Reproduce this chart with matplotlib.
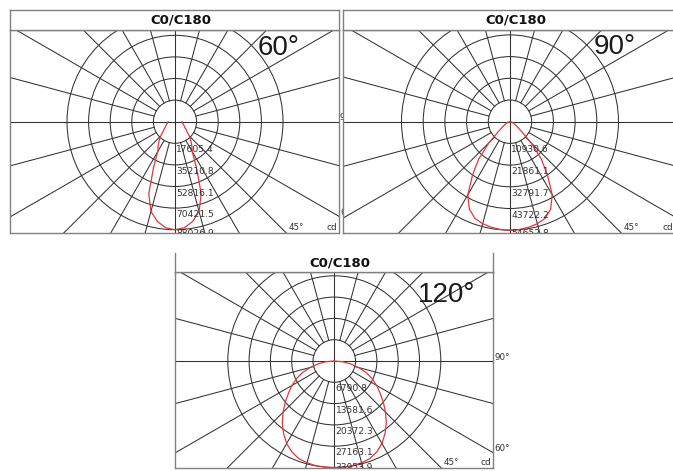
import numpy as np
import matplotlib.pyplot as plt
from matplotlib.patches import Circle

FIG_W, FIG_H = 673, 471

title = "C0/C180"
beam_labels = ["60°", "90°", "120°"]

# polar angle from nadir (deg) and luminous intensity (cd), C0/C180 symmetric
angles = [0, 5, 10, 15, 20, 25, 30, 35, 40, 45, 50, 55, 60, 65, 70, 75, 80, 85, 90]

rings_60 = [17605.4, 35210.8, 52816.1, 70421.5, 88026.9]
intensity_60 = [88027, 86800, 82600, 75800, 62500, 41500, 28000, 24000, 20000, 16500,
                12800, 11000, 9250, 8300, 7400, 6800, 6350, 6000, 5700]

rings_90 = [10930.6, 21861.1, 32791.7, 43722.2, 54652.8]
intensity_90 = [54653, 54500, 54000, 53200, 51800, 48500, 42500, 33000, 24500, 15000,
                7500, 4500, 3000, 2200, 1500, 1000, 600, 300, 0]

rings_120 = [6790.8, 13581.6, 20372.3, 27163.1, 33953.9]
intensity_120 = [33954, 33950, 33900, 33600, 33100, 32000, 30400, 28200, 25800, 23100,
                 20400, 17800, 15600, 13300, 10800, 8000, 5200, 2700, 0]

GRID = "#333333"
FRAME = "#808080"
RED = "#e0383c"


def px_axes(fig, x0, y0, x1, y1):
    return fig.add_axes([x0 / FIG_W, 1 - y1 / FIG_H, (x1 - x0) / FIG_W, (y1 - y0) / FIG_H])


def clean(ax, top=True):
    ax.set_xticks([])
    ax.set_yticks([])
    for side, sp in ax.spines.items():
        sp.set_color(FRAME)
        sp.set_linewidth(1.0)
    if not top:
        ax.spines["top"].set_visible(False)


def draw_panel(fig, box, center, px_ring, rings, intensity, beam, beam_pos,
               top_line=True, side_labels=True):
    x0, ytop, x1, ysep, ybot = box
    cx, cy = center
    step = rings[0]
    s = px_ring / step

    def to_data(px, py):
        return (px - cx) / s, (cy - py) / s

    ax = px_axes(fig, x0, ysep, x1, ybot)
    ax.set_facecolor("white")
    ax.set_xlim(*[(v - cx) / s for v in (x0, x1)])
    ax.set_ylim(-(ybot - cy) / s, (cy - ysep) / s)
    clean(ax)

    for v in rings:
        ax.add_patch(Circle((0, 0), v, fill=False, ec=GRID, lw=0.75))
    far = step * 12
    for a in range(0, 360, 15):
        t = np.radians(a)
        if a % 90 == 0:
            r0 = 0
        else:
            r0 = step
        ax.plot([r0 * np.cos(t), far * np.cos(t)], [r0 * np.sin(t), far * np.sin(t)],
                color=GRID, lw=0.75)
    ax.axhline(0, color=GRID, lw=0.75)
    ax.axvline(0, color=GRID, lw=0.75)

    th = np.radians(angles)
    inten = np.array(intensity, dtype=float)
    xs = np.concatenate([-(inten * np.sin(th))[::-1], (inten * np.sin(th))[1:]])
    ys = np.concatenate([-(inten * np.cos(th))[::-1], -(inten * np.cos(th))[1:]])
    ax.plot(xs, ys, color=RED, lw=0.9)

    for v in rings:
        if v * s + 10 > ybot - cy:
            # last label sits on the bottom border, half cut
            bx, by = to_data(cx, ybot)
            ax.annotate(f"{v:.1f}", (bx, by), xytext=(1, 0), textcoords="offset points",
                        ha="left", va="center", fontsize=6.6, color="#333333",
                        annotation_clip=False, clip_on=True)
        else:
            ax.annotate(f"{v:.1f}", (0, -v), xytext=(1, -1.5), textcoords="offset points",
                        ha="left", va="top", fontsize=6.6, color="#333333",
                        annotation_clip=False, clip_on=True)

    # angle markers along the border
    if side_labels:
        bx, by = to_data(x1 + 1, cy - 4)
        ax.text(bx, by, "90°", fontsize=6.3, color="#333333", ha="left", va="center",
                clip_on=False)
        d = x1 - cx
        bx, by = to_data(x1 + 1, cy + d / np.tan(np.radians(60)) - 4)
        ax.text(bx, by, "60°", fontsize=6.3, color="#333333", ha="left", va="center",
                clip_on=False)
    bx, by = to_data(cx + (ybot - cy) + 2, ybot - 1)
    ax.text(bx, by, "45°", fontsize=6.3, color="#333333", ha="left", va="bottom")
    bx, by = to_data(x1 - 2, ybot - 1)
    ax.text(bx, by, "cd", fontsize=6.5, color="#333333", ha="right", va="bottom")

    bx, by = to_data(*beam_pos)
    ax.text(bx, by, beam, fontsize=20, family="Liberation Sans", color="#1a1a1a",
            ha="left", va="baseline")

    tax = px_axes(fig, x0, ytop, x1, ysep)
    tax.set_facecolor("white")
    clean(tax, top_line)
    tax.text((cx + 6 - x0) / (x1 - x0), 0.5, title, transform=tax.transAxes,
             ha="center", va="center", fontsize=9.5, fontweight="bold", color="#111111")
    return ax


fig = plt.figure(figsize=(FIG_W / 100, FIG_H / 100), dpi=100)

draw_panel(fig, (9.5, 9.5, 339, 30, 233), (175, 121.7), 21.6,
           rings_60, intensity_60, beam_labels[0], (258, 55))
draw_panel(fig, (343, 9.5, 675, 30, 233), (510, 121.7), 21.7,
           rings_90, intensity_90, beam_labels[1], (594, 54), side_labels=False)
draw_panel(fig, (175, 253, 493, 272, 468), (334.3, 361), 21.3,
           rings_120, intensity_120, beam_labels[2], (418, 302), top_line=False)

fig.savefig("out.png", dpi=100)
